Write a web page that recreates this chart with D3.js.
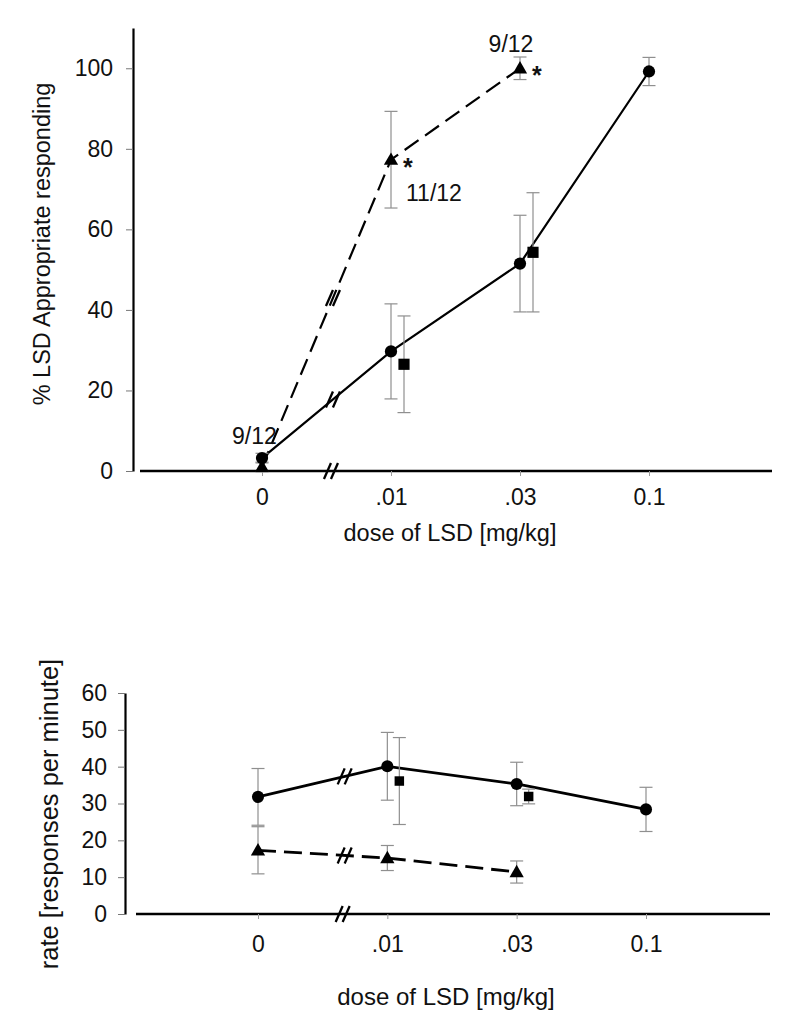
<!DOCTYPE html>
<html><head><meta charset="utf-8">
<script src="https://cdn.jsdelivr.net/npm/d3@7"></script>
<style>body{margin:0;background:#fff}</style>
</head><body>
<svg id="chart" width="800" height="1030"></svg>
<script>
// ---------- data ----------
const doses = ["0", ".01", ".03", "0.1"];

// top panel: % LSD appropriate responding
const pctTicks = [0, 20, 40, 60, 80, 100];
const pctCircle = [3.2, 29.7, 51.5, 99.2];
const pctCircleErr = [1.2, 11.8, 12.0, 3.5];
const pctSquare = [null, 26.5, 54.3, null];
const pctSquareErr = [null, 12.0, 14.8, null];
const pctTriangle = [1.0, 77.3, 100.0, null];
const pctTriangleErr = [1.2, 12.0, 2.8, null];
const pctLabels = [
  {dose: "0", value: 3.2, text: "9/12", pos: "left"},
  {dose: ".01", value: 77.3, text: "*", pos: "star"},
  {dose: ".01", value: 77.3, text: "11/12", pos: "below"},
  {dose: ".03", value: 100.0, text: "9/12", pos: "above"},
  {dose: ".03", value: 100.0, text: "*", pos: "star"}
];

// bottom panel: response rate
const rateTicks = [0, 10, 20, 30, 40, 50, 60];
const rateCircle = [31.8, 40.1, 35.3, 28.4];
const rateCircleErr = [7.7, 9.2, 5.9, 6.0];
const rateSquare = [null, 36.1, 31.9, null];
const rateSquareErr = [null, 11.8, 2.0, null];
const rateTriangle = [17.3, 15.2, 11.4, null];
const rateTriangleErr = [6.4, 3.4, 3.0, null];

const FONT = "'Liberation Sans', Arial, sans-serif";
const svg = d3.select("#chart");

function panel(cfg) {
  const g = svg.append("g");
  const x = d3.scalePoint().domain(doses).range(cfg.xRange);
  const y = d3.scaleLinear().domain(cfg.yDomain).range(cfg.yRange);
  const off = cfg.squareOffset;

  // y axis
  const yAxis = g.append("g").attr("transform", `translate(${cfg.yAxisX},0)`)
    .call(d3.axisLeft(y).tickValues(cfg.ticks).tickSize(7).tickPadding(cfg.yPad).tickSizeOuter(0));
  yAxis.select(".domain").attr("stroke", "#000").attr("stroke-width", 2.2);
  yAxis.selectAll(".tick line").attr("stroke", "#777").attr("stroke-width", 1);
  yAxis.selectAll("text").attr("font-family", FONT).attr("font-size", 23).attr("fill", "#111");

  // x axis
  const xAxis = g.append("g").attr("transform", `translate(0,${y(0)})`)
    .call(d3.axisBottom(x).tickSize(5).tickPadding(cfg.xPad).tickSizeOuter(0));
  xAxis.select(".domain").attr("d", `M${cfg.xAxisStart},0H${cfg.xAxisEnd}`)
    .attr("stroke", "#000").attr("stroke-width", 2.6);
  xAxis.selectAll(".tick line").attr("stroke", "#999").attr("stroke-width", 1);
  xAxis.selectAll("text").attr("font-family", FONT).attr("font-size", 23).attr("fill", "#111");

  // axis titles
  g.append("text").attr("x", cfg.xTitle[0]).attr("y", cfg.xTitle[1]).attr("text-anchor", "middle")
    .attr("font-family", FONT).attr("font-size", cfg.xTitleSize).attr("fill", "#111").text("dose of LSD [mg/kg]");
  g.append("text").attr("transform", `translate(${cfg.yTitle[0]},${cfg.yTitle[1]}) rotate(-90)`)
    .attr("text-anchor", "middle").attr("font-family", FONT).attr("font-size", cfg.yTitleSize).attr("fill", "#111")
    .text(cfg.yTitleText);

  const pts = (vals) => vals.map((v, i) => v == null ? null : {d: doses[i], v});

  // lines
  const line = d3.line().x(p => x(p.d)).y(p => y(p.v));
  const circ = pts(cfg.circle).filter(Boolean);
  const tri = pts(cfg.triangle).filter(Boolean);
  g.append("path").attr("d", line(circ)).attr("fill", "none").attr("stroke", "#000").attr("stroke-width", cfg.lineW);
  g.append("path").attr("d", line(tri)).attr("fill", "none").attr("stroke", "#000").attr("stroke-width", cfg.lineW)
    .attr("stroke-dasharray", cfg.dash);

  // error bars
  function errs(vals, ev, dx) {
    vals.forEach((v, i) => {
      if (v == null) return;
      const cx = x(doses[i]) + dx;
      const lo = y(v - ev[i]), hi = y(v + ev[i]);
      const eg = g.append("g").attr("stroke", "#8f8f8f").attr("stroke-width", 1.2);
      eg.append("line").attr("x1", cx).attr("x2", cx).attr("y1", lo).attr("y2", hi);
      eg.append("line").attr("x1", cx - 6.5).attr("x2", cx + 6.5).attr("y1", lo).attr("y2", lo);
      eg.append("line").attr("x1", cx - 6.5).attr("x2", cx + 6.5).attr("y1", hi).attr("y2", hi);
    });
  }
  errs(cfg.circle, cfg.circleErr, 0);
  errs(cfg.square, cfg.squareErr, off);
  errs(cfg.triangle, cfg.triangleErr, 0);

  // markers
  function marks(vals, type, size, dx, dy) {
    vals.forEach((v, i) => {
      if (v == null) return;
      g.append("path").attr("d", d3.symbol().type(type).size(size)())
        .attr("transform", `translate(${x(doses[i]) + dx},${y(v) + dy})`).attr("fill", "#000");
    });
  }
  marks(cfg.square, d3.symbolSquare, cfg.squareSize, off, 0);
  marks(cfg.circle, d3.symbolCircle, cfg.circleSize, 0, 0);
  marks(cfg.triangle, d3.symbolTriangle, 88, 0, 1);

  // break marks "//" on the segments between 0 and .01, and on the x axis
  function brk(px, py) {
    const bg = g.append("g").attr("stroke", "#000").attr("stroke-width", 2.3);
    [-3.5, 3.5].forEach(o => {
      bg.append("line").attr("x1", px + o - 3.5).attr("y1", py + 8).attr("x2", px + o + 3.5).attr("y2", py - 8);
    });
  }
  const t = cfg.breakFrac;
  const bx = x(doses[0]) + t * (x(doses[1]) - x(doses[0]));
  [cfg.circle, cfg.triangle].forEach(vals => {
    brk(bx, y(vals[0] + t * (vals[1] - vals[0])));
  });
  brk(bx - 2, y(0));

  return {g, x, y};
}

// ---------- top panel ----------
const topPanel = panel({
  xRange: [262, 649], yDomain: [0, 110], yRange: [471, 28], yAxisX: 133,
  xAxisStart: 140, xAxisEnd: 772, ticks: pctTicks, yPad: 13, xPad: 13,
  xTitle: [450, 541], xTitleSize: 23.5, yTitle: [50, 244], yTitleSize: 23.5,
  yTitleText: "% LSD Appropriate responding",
  circle: pctCircle, circleErr: pctCircleErr, square: pctSquare, squareErr: pctSquareErr,
  triangle: pctTriangle, triangleErr: pctTriangleErr, squareOffset: 13,
  circleSize: 118, squareSize: 125, breakFrac: 0.55, lineW: 2.2, dash: "17,8"
});

pctLabels.forEach(l => {
  const cx = topPanel.x(l.dose), cy = topPanel.y(l.value);
  let tx = cx, ty = cy, anchor = "start", size = 23, weight = "normal";
  if (l.pos === "left") { tx = cx - 30; ty = cy - 14; }
  if (l.pos === "star") { tx = cx + 12; ty = cy + 16; size = 25; weight = "bold"; }
  if (l.pos === "below") { tx = cx + 15; ty = cy + 41; }
  if (l.pos === "above") { tx = cx - 9; ty = cy - 16; anchor = "middle"; }
  topPanel.g.append("text").attr("x", tx).attr("y", ty).attr("text-anchor", anchor)
    .attr("font-family", FONT).attr("font-size", size).attr("font-weight", weight)
    .attr("fill", "#111").text(l.text);
});

// ---------- bottom panel ----------
panel({
  xRange: [258, 646], yDomain: [0, 60], yRange: [914, 693], yAxisX: 125,
  xAxisStart: 136, xAxisEnd: 770, ticks: rateTicks, yPad: 11, xPad: 17,
  xTitle: [446, 1005], xTitleSize: 24, yTitle: [58, 814], yTitleSize: 25.5,
  yTitleText: "rate [responses per minute]",
  circle: rateCircle, circleErr: rateCircleErr, square: rateSquare, squareErr: rateSquareErr,
  triangle: rateTriangle, triangleErr: rateTriangleErr, squareOffset: 12,
  circleSize: 115, squareSize: 90, breakFrac: 0.67, lineW: 2.8, dash: "18,8"
});
</script>
</body></html>
